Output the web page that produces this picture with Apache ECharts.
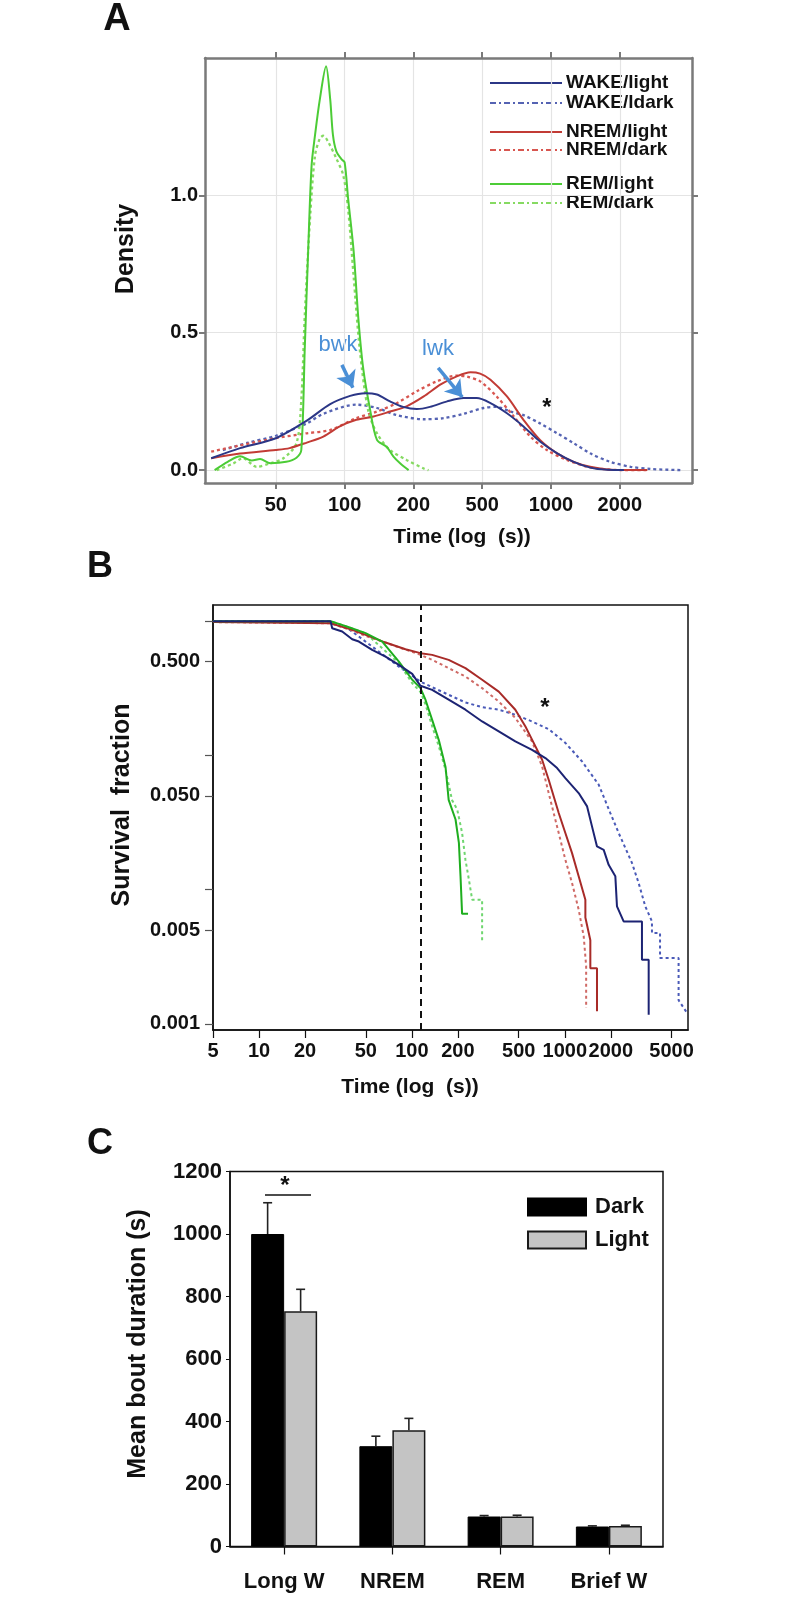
<!DOCTYPE html>
<html><head><meta charset="utf-8">
<script src="https://cdn.jsdelivr.net/npm/echarts@6/dist/echarts.min.js"></script>
<style>html,body{margin:0;padding:0;background:#fff}#c{width:792px;height:1599px}</style>
</head><body><div id="c"></div>
<script>
// ---------- Panel A: density (x in tick-index units; ticks equally spaced) ----------
const densityTickLabels = ['50', '100', '200', '500', '1000', '2000'];
const densityTickPos = [0, 1, 2, 3, 4, 5];
const densityYTicks = [0, 0.5, 1.0];
const wakeLightDensity = [[-0.94,0.043],[-0.52,0.08],[0,0.116],[0.45,0.18],[0.79,0.24],[1.08,0.27],[1.30,0.28],[1.47,0.275],[1.66,0.25],[1.85,0.23],[2.05,0.222],[2.24,0.23],[2.49,0.25],[2.73,0.262],[2.92,0.262],[3.12,0.244],[3.36,0.207],[3.6,0.159],[3.84,0.104],[4.09,0.061],[4.33,0.03],[4.57,0.009],[4.82,0.001],[5.06,0]];
const wakeDarkDensity = [[-0.77,0.073],[-0.4,0.1],[0,0.125],[0.45,0.17],[0.69,0.205],[1.17,0.238],[1.47,0.226],[1.76,0.2],[2.15,0.185],[2.44,0.189],[2.73,0.205],[3.02,0.226],[3.21,0.23],[3.41,0.213],[3.6,0.2],[3.84,0.17],[4.09,0.134],[4.33,0.098],[4.57,0.061],[4.86,0.03],[5.16,0.012],[5.45,0.004],[5.88,0]];
const nremLightDensity = [[-0.94,0.043],[-0.52,0.06],[0,0.073],[0.2,0.08],[0.45,0.1],[0.69,0.122],[0.93,0.159],[1.17,0.183],[1.42,0.195],[1.66,0.213],[1.90,0.232],[2.15,0.268],[2.39,0.311],[2.63,0.341],[2.83,0.356],[2.97,0.351],[3.12,0.329],[3.36,0.268],[3.6,0.183],[3.84,0.11],[4.09,0.061],[4.33,0.03],[4.57,0.012],[4.82,0.002],[5.06,0],[5.4,0]];
const nremDarkDensity = [[-0.94,0.067],[-0.52,0.09],[0,0.116],[0.45,0.134],[0.79,0.146],[1.17,0.189],[1.47,0.213],[1.76,0.244],[2.05,0.287],[2.34,0.323],[2.63,0.344],[2.78,0.34],[2.97,0.323],[3.21,0.268],[3.46,0.195],[3.7,0.122],[3.94,0.073],[4.23,0.037],[4.57,0.01],[5.06,0],[5.4,0]];
const remLightDensity = [[-0.89,0],[-0.7,0.03],[-0.52,0.05],[-0.35,0.035],[-0.23,0.04],[-0.08,0.025],[0.15,0.03],[0.30,0.045],[0.37,0.073],[0.42,0.44],[0.47,0.80],[0.52,1.11],[0.57,1.22],[0.64,1.35],[0.73,1.47],[0.79,1.35],[0.83,1.22],[0.88,1.16],[0.96,1.13],[1.0,1.12],[1.05,0.99],[1.13,0.8],[1.2,0.55],[1.27,0.37],[1.37,0.22],[1.47,0.11],[1.61,0.085],[1.71,0.049],[1.81,0.024],[1.93,0]];
const remDarkDensity = [[-0.86,0],[-0.62,0.024],[-0.48,0.043],[-0.28,0.012],[-0.09,0.024],[0.11,0.043],[0.30,0.098],[0.37,0.256],[0.42,0.561],[0.50,0.927],[0.57,1.146],[0.64,1.207],[0.69,1.217],[0.76,1.195],[0.88,1.134],[0.98,1.073],[1.05,0.951],[1.13,0.707],[1.22,0.439],[1.34,0.22],[1.47,0.134],[1.66,0.073],[1.90,0.037],[2.15,0.006],[2.22,0]];
const densityLegend = ['WAKE/light', 'WAKE/ldark', 'NREM/light', 'NREM/dark', 'REM/light', 'REM/dark'];

// ---------- Panel B: survival (time s, fraction) ----------
const survXTicks = [5, 10, 20, 50, 100, 200, 500, 1000, 2000, 5000];
const survYTicks = [0.001, 0.005, 0.01, 0.05, 0.1, 0.5, 1];
const survYLabels = [0.001, 0.005, 0.05, 0.5];
const survCutoff = 114;
const wakeLightSurv = [[5,1],[29.4,1],[30.1,0.886],[35,0.837],[40.7,0.734],[45,0.705],[55,0.611],[67.2,0.545],[82.2,0.473],[100.5,0.405],[113.8,0.33],[135.7,0.308],[174,0.26],[224,0.219],[288,0.179],[370,0.151],[475,0.127],[611,0.11],[747,0.0955],[891,0.0805],[1009,0.0678],[1233,0.0524],[1400,0.0417],[1507,0.0296],[1625,0.021],[1798,0.0198],[1937,0.0153],[2142,0.0126],[2196,0.0126],[2196,0.0075],[2427,0.0058],[3199,0.0058],[3199,0.003],[3540,0.003],[3540,0.00117]];
const wakeDarkSurv = [[5,1],[29.4,1],[33.3,0.923],[38.7,0.871],[45,0.768],[55,0.647],[67.2,0.545],[82.2,0.459],[100.5,0.392],[113.8,0.355],[135.7,0.322],[174,0.283],[224,0.248],[288,0.229],[370,0.219],[475,0.201],[611,0.179],[785,0.157],[1009,0.124],[1297,0.0902],[1667,0.0605],[1987,0.0372],[2253,0.0264],[2752,0.0158],[3043,0.0112],[3364,0.0075],[3719,0.0058],[3719,0.00475],[4200,0.00475],[4200,0.0031],[5555,0.0031],[5555,0.0015],[6295,0.00121]];
const nremLightSurv = [[5,0.985],[29.4,0.965],[30.1,0.939],[40.7,0.862],[49.8,0.791],[67.2,0.693],[90.8,0.618],[113.8,0.578],[135.7,0.561],[174,0.515],[224,0.447],[288,0.366],[370,0.299],[475,0.219],[553,0.164],[611,0.131],[711,0.0928],[785,0.0659],[913,0.0372],[1009,0.0264],[1116,0.0187],[1233,0.0126],[1364,0.0084],[1364,0.0062],[1470,0.0042],[1470,0.0026],[1625,0.0026],[1625,0.00124]];
const nremDarkSurv = [[5,0.985],[29.4,0.965],[30.1,0.939],[40.7,0.852],[49.8,0.777],[67.2,0.693],[113.8,0.561],[135.7,0.515],[174,0.447],[224,0.387],[288,0.317],[370,0.252],[475,0.19],[611,0.127],[711,0.0828],[785,0.0524],[913,0.0264],[1009,0.0167],[1116,0.0112],[1233,0.0071],[1330,0.0045],[1380,0.0027],[1380,0.00131]];
const remLightSurv = [[5,1],[29.4,1],[33.3,0.955],[38.7,0.902],[49.8,0.814],[64,0.705],[82.2,0.5],[100.5,0.366],[113.8,0.317],[122.7,0.26],[135.7,0.184],[150,0.13],[166,0.082],[174,0.0466],[193,0.0333],[203,0.0223],[208,0.0126],[213,0.0066],[233,0.0066]];
const remDarkSurv = [[5,1],[29.4,1],[33.3,0.955],[49.8,0.814],[82.2,0.487],[100.5,0.345],[113.8,0.297],[122.7,0.24],[135.7,0.165],[150,0.117],[166,0.078],[183,0.0466],[198,0.0395],[213,0.0265],[224,0.0167],[236,0.0119],[248,0.0084],[288,0.0084],[288,0.0042]];

// ---------- Panel C: mean bout duration ----------
const boutCategories = ['Long W', 'NREM', 'REM', 'Brief W'];
const darkMean = [1000, 321, 96, 64];
const darkSem = [100, 32, 3, 2];
const lightMean = [753, 372, 96, 66];
const lightSem = [70, 38, 4, 2];

const F = 'Liberation Sans, Arial, Helvetica, sans-serif';
const chart = echarts.init(document.getElementById('c'), null, {renderer: 'canvas'});

const C = {
  wakeL: '#2b3686', wakeD: '#5563b3',
  nremL: '#c23b35', nremD: '#d85650',
  remL: '#4ccc36', remD: '#86da62'
};
const Cs = {
  wakeL: '#1c2373', wakeD: '#4a5ab8',
  nremL: '#a82b28', nremD: '#cf6a66',
  remL: '#1fae1f', remD: '#6fd66f'
};

function dens(name, data, color, dotted) {
  return {type: 'line', name: name, xAxisIndex: 0, yAxisIndex: 0, data: data,
    symbol: 'none', smooth: 0.3, silent: true, animation: false, z: dotted ? 2 : 3,
    lineStyle: {color: color, width: dotted ? 2.3 : 2, type: dotted ? [3, 3] : 'solid'}};
}
function surv(name, data, color, dotted) {
  return {type: 'line', name: name, xAxisIndex: 2, yAxisIndex: 2, data: data,
    symbol: 'none', silent: true, animation: false, z: dotted ? 2 : 3,
    lineStyle: {color: color, width: 2, type: dotted ? [3, 3] : 'solid'}};
}

const gray = '#7a7a7a';
const lbl = {fontFamily: F, fontWeight: 'bold', fontSize: 20, color: '#111'};

const series = [
  dens('WAKE/ldark', wakeDarkDensity, C.wakeD, true),
  dens('NREM/dark', nremDarkDensity, C.nremD, true),
  dens('REM/dark', remDarkDensity, C.remD, true),
  dens('NREM/light', nremLightDensity, C.nremL, false),
  dens('REM/light', remLightDensity, C.remL, false),
  Object.assign(dens('WAKE/light', wakeLightDensity, C.wakeL, false), {
    markLine: {silent: true, animation: false, symbol: ['none', 'arrow'], symbolSize: [16, 16],
      label: {show: false}, lineStyle: {color: '#4a8fd6', width: 3.5, type: 'solid'},
      data: [
        [{coord: [0.96, 0.383]}, {coord: [1.12, 0.30]}],
        [{coord: [2.36, 0.372]}, {coord: [2.71, 0.266]}]
      ]}
  }),
  surv('s-wd', wakeDarkSurv, Cs.wakeD, true),
  surv('s-nd', nremDarkSurv, Cs.nremD, true),
  surv('s-rd', remDarkSurv, Cs.remD, true),
  surv('s-nl', nremLightSurv, Cs.nremL, false),
  surv('s-rl', remLightSurv, Cs.remL, false),
  Object.assign(surv('s-wl', wakeLightSurv, Cs.wakeL, false), {
    markLine: {silent: true, animation: false, symbol: 'none', label: {show: false},
      lineStyle: {color: '#111', width: 2, type: [7, 5]}, data: [{xAxis: survCutoff}]}
  }),
  {type: 'bar', name: 'Dark', xAxisIndex: 3, yAxisIndex: 3, data: darkMean, barWidth: 33, barGap: '0%',
   animation: false, itemStyle: {color: '#000', borderColor: '#000', borderWidth: 1}},
  {type: 'bar', name: 'Light', xAxisIndex: 3, yAxisIndex: 3, data: lightMean, barWidth: 33, barGap: '0%',
   animation: false, itemStyle: {color: '#c4c4c4', borderColor: '#1a1a1a', borderWidth: 1.5}},
  {type: 'custom', name: 'err', xAxisIndex: 3, yAxisIndex: 3, animation: false, silent: true, z: 5,
   data: boutCategories.map((c, i) => [i, darkMean[i], darkSem[i], -1]).concat(
         boutCategories.map((c, i) => [i, lightMean[i], lightSem[i], 1])),
   encode: {x: 0, y: 1},
   renderItem: function (params, api) {
     const i = api.value(0), m = api.value(1), s = api.value(2), side = api.value(3);
     const base = api.coord([i, m]);
     const top = api.coord([i, m + s]);
     const x = base[0] + side * 16.5;
     const st = {stroke: '#222', lineWidth: 1.6};
     return {type: 'group', children: [
       {type: 'line', shape: {x1: x, y1: base[1], x2: x, y2: top[1]}, style: st},
       {type: 'line', shape: {x1: x - 4.5, y1: top[1], x2: x + 4.5, y2: top[1]}, style: st}
     ]};
   }}
];

function txt(x, y, text, font, color, opts) {
  return Object.assign({type: 'text', x: x, y: y, silent: true,
    style: {text: text, font: font, fill: color || '#111', textAlign: 'center', textVerticalAlign: 'middle'}}, opts || {});
}

const legendA = [
  {y: 83, color: C.wakeL, dash: null},
  {y: 103, color: C.wakeD, dash: [6, 3, 2, 3]},
  {y: 132, color: C.nremL, dash: null},
  {y: 150, color: C.nremD, dash: [6, 3, 2, 3]},
  {y: 184, color: C.remL, dash: null},
  {y: 203, color: C.remD, dash: [6, 3, 2, 3]}
];
const graphics = [];
legendA.forEach((e, i) => {
  graphics.push({type: 'line', silent: true, shape: {x1: 490, y1: e.y, x2: 562, y2: e.y},
    style: {stroke: e.color, lineWidth: 2, lineDash: e.dash}});
  graphics.push({type: 'text', silent: true, x: 566, y: e.y,
    style: {text: densityLegend[i], font: 'bold 19px ' + F, fill: '#111', textAlign: 'left', textVerticalAlign: 'middle'}});
});
graphics.push(
  txt(117, 20, 'A', 'bold 38px ' + F),
  txt(100, 567, 'B', 'bold 36px ' + F),
  txt(100, 1144, 'C', 'bold 36px ' + F),
  txt(126, 249, 'Density', 'bold 25px ' + F, '#111', {rotation: Math.PI / 2}),
  txt(122, 805, 'Survival  fraction', 'bold 25px ' + F, '#111', {rotation: Math.PI / 2}),
  txt(138, 1344, 'Mean bout duration (s)', 'bold 25px ' + F, '#111', {rotation: Math.PI / 2}),
  txt(462, 537, 'Time (log  (s))', 'bold 21px ' + F),
  txt(410, 1087, 'Time (log  (s))', 'bold 21px ' + F),
  txt(338, 345, 'bwk', '22px ' + F, '#4a8fd6'),
  txt(438, 349, 'lwk', '22px ' + F, '#4a8fd6'),
  txt(547, 408, '*', 'bold 24px ' + F),
  txt(545, 708, '*', 'bold 24px ' + F),
  txt(285, 1186, '*', 'bold 24px ' + F),
  {type: 'line', silent: true, shape: {x1: 265, y1: 1195, x2: 311, y2: 1195}, style: {stroke: '#111', lineWidth: 1.6}}
);

const option = {
  backgroundColor: '#fff',
  animation: false,
  grid: [
    {left: 205, top: 58, width: 487, height: 425, show: false},
    {left: 213, top: 605, width: 475, height: 425, show: true, borderColor: '#111', borderWidth: 1.5, backgroundColor: 'transparent'},
    {left: 230, top: 1171.5, width: 433, height: 375, show: true, borderColor: '#111', borderWidth: 1.5, backgroundColor: 'transparent'}
  ],
  legend: {
    data: ['Dark', 'Light'], orient: 'vertical', left: 527, top: 1196, padding: 0, itemWidth: 58, itemHeight: 17, itemGap: 11,
    icon: 'rect', selectedMode: false,
    textStyle: {fontFamily: F, fontWeight: 'bold', fontSize: 22, color: '#111', padding: [0, 0, 0, 4]}
  },
  xAxis: [
    {type: 'value', gridIndex: 0, position: 'bottom', min: -1.03, max: 6.05,
     axisLine: {show: true, onZero: false, lineStyle: {color: gray, width: 2.5}},
     axisTick: {show: true, length: 6, customValues: densityTickPos, lineStyle: {color: gray, width: 2}},
     axisLabel: Object.assign({customValues: densityTickPos, margin: 12,
       formatter: v => densityTickLabels[Math.round(v)]}, lbl),
     splitLine: {show: true, lineStyle: {color: '#e4e4e4', width: 1.2}}},
    {type: 'value', gridIndex: 0, position: 'top', min: -1.03, max: 6.05,
     axisLine: {show: true, onZero: false, lineStyle: {color: gray, width: 2.5}},
     axisTick: {show: true, length: 6, customValues: densityTickPos, lineStyle: {color: gray, width: 2}},
     axisLabel: {show: false}, splitLine: {show: false}},
    {type: 'log', gridIndex: 1, min: 5, max: 6400, logBase: 10,
     axisLine: {show: true, onZero: false, lineStyle: {color: '#111', width: 1.5}},
     axisTick: {show: true, length: 8, customValues: survXTicks, lineStyle: {color: '#111', width: 1.2}},
     axisLabel: Object.assign({customValues: survXTicks, margin: 11, formatter: v => String(Math.round(v))}, lbl),
     splitLine: {show: false}, minorTick: {show: false}},
    {type: 'category', gridIndex: 2, data: boutCategories,
     axisLine: {show: true, lineStyle: {color: '#111', width: 1.5}},
     axisTick: {show: true, alignWithLabel: true, length: 8, lineStyle: {color: '#111', width: 1.2}},
     axisLabel: Object.assign({}, lbl, {fontSize: 22, margin: 24})}
  ],
  yAxis: [
    {type: 'value', gridIndex: 0, position: 'left', min: -0.047, max: 1.5,
     axisLine: {show: true, onZero: false, lineStyle: {color: gray, width: 2.5}},
     axisTick: {show: true, length: 6, customValues: densityYTicks, lineStyle: {color: gray, width: 2}},
     axisLabel: Object.assign({customValues: densityYTicks, margin: 7, formatter: v => v.toFixed(1)}, lbl),
     splitLine: {show: true, lineStyle: {color: '#e4e4e4', width: 1.2}}},
    {type: 'value', gridIndex: 0, position: 'right', min: -0.047, max: 1.5,
     axisLine: {show: true, onZero: false, lineStyle: {color: gray, width: 2.5}},
     axisTick: {show: true, length: 6, customValues: densityYTicks, lineStyle: {color: gray, width: 2}},
     axisLabel: {show: false}, splitLine: {show: false}},
    {type: 'log', gridIndex: 1, min: 0.0009, max: 1.32, logBase: 10,
     axisLine: {show: true, onZero: false, lineStyle: {color: '#111', width: 1.5}},
     axisTick: {show: true, length: 8, customValues: survYTicks, lineStyle: {color: '#555', width: 1.2}},
     axisLabel: Object.assign({customValues: survYLabels, margin: 13, formatter: v => Number(v).toFixed(3)}, lbl),
     splitLine: {show: false}, minorTick: {show: false}},
    {type: 'value', gridIndex: 2, min: 0, max: 1200, interval: 200,
     axisLine: {show: true, lineStyle: {color: '#111', width: 1.5}},
     axisTick: {show: true, length: 4, lineStyle: {color: '#111', width: 1}},
     axisLabel: Object.assign({}, lbl, {fontSize: 22, margin: 8, formatter: v => String(v)}),
     splitLine: {show: false}}
  ],
  series: series,
  graphic: {elements: graphics}
};
chart.setOption(option);
</script>
</body></html>
